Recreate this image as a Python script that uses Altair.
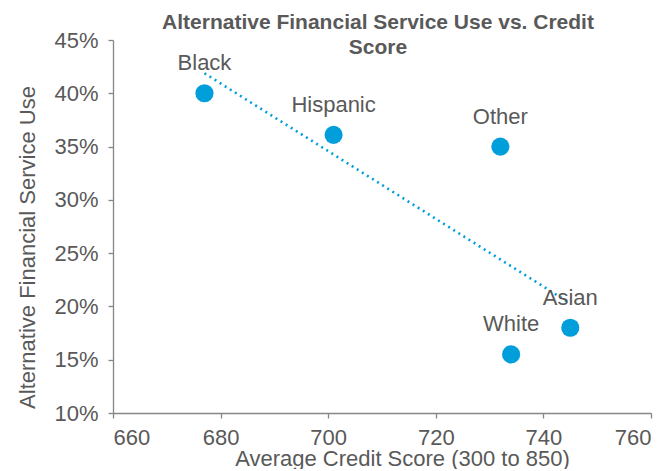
import altair as alt
import pandas as pd

groups = ["Black", "Hispanic", "Other", "White", "Asian"]
credit_score = [677, 701, 732, 734, 745]
afs_use = [0.40, 0.361, 0.35, 0.155, 0.18]

df = pd.DataFrame({"group": groups, "score": credit_score, "afs": afs_use})

BLUE = "#009FDB"
GRAY = "#595959"
FONT = "Liberation Sans"

x = alt.X("score:Q", scale=alt.Scale(domain=[660, 760], nice=False, zero=False),
          axis=alt.Axis(values=[660, 680, 700, 720, 740, 760], title="Average Credit Score (300 to 850)",
                        grid=False, tickSize=5, labelPadding=9,
                        titleX=289, titleY=45, titleBaseline="middle", titleAlign="center"))
y = alt.Y("afs:Q", scale=alt.Scale(domain=[0.10, 0.45], nice=False, zero=False),
          axis=alt.Axis(values=[0.10, 0.15, 0.20, 0.25, 0.30, 0.35, 0.40, 0.45], format=".0%",
                        title="Alternative Financial Service Use", grid=False, tickSize=5,
                        labelPadding=10, titleX=-86, titleY=207, titleBaseline="middle",
                        titleAlign="center", titleAngle=270))

base = alt.Chart(df)

trend = base.transform_regression("score", "afs").mark_line(
    color=BLUE, strokeWidth=2.6, strokeDash=[2, 4]
).encode(x=x, y=y)

points = base.mark_circle(size=330, color=BLUE, opacity=1).encode(x=x, y=y)

labels = base.mark_text(dy=-30, fontSize=22, font=FONT, color=GRAY, baseline="middle").encode(
    x=x, y=y, text="group:N")

chart = alt.layer(trend, points, labels).properties(
    width=538, height=373,
    padding={"left": 105, "top": 32, "right": 10, "bottom": 56},
    autosize=alt.AutoSizeParams(type="none"),
    title=alt.TitleParams(
        ["Alternative Financial Service Use vs. Credit", "Score"],
        anchor="middle", font=FONT, fontSize=21, fontWeight="bold", color=GRAY,
        offset=-50, lineHeight=25, baseline="bottom", dx=-4),
).configure_view(stroke=None).configure_axis(
    domainColor="#868686", tickColor="#868686", labelColor=GRAY, titleColor=GRAY,
    labelFont=FONT, titleFont=FONT, labelFontSize=22, titleFontSize=22,
    titleFontWeight="normal", domainWidth=1.3, tickWidth=1.3
)

chart.save("out.html", embed_options={"renderer": "svg", "actions": False})
